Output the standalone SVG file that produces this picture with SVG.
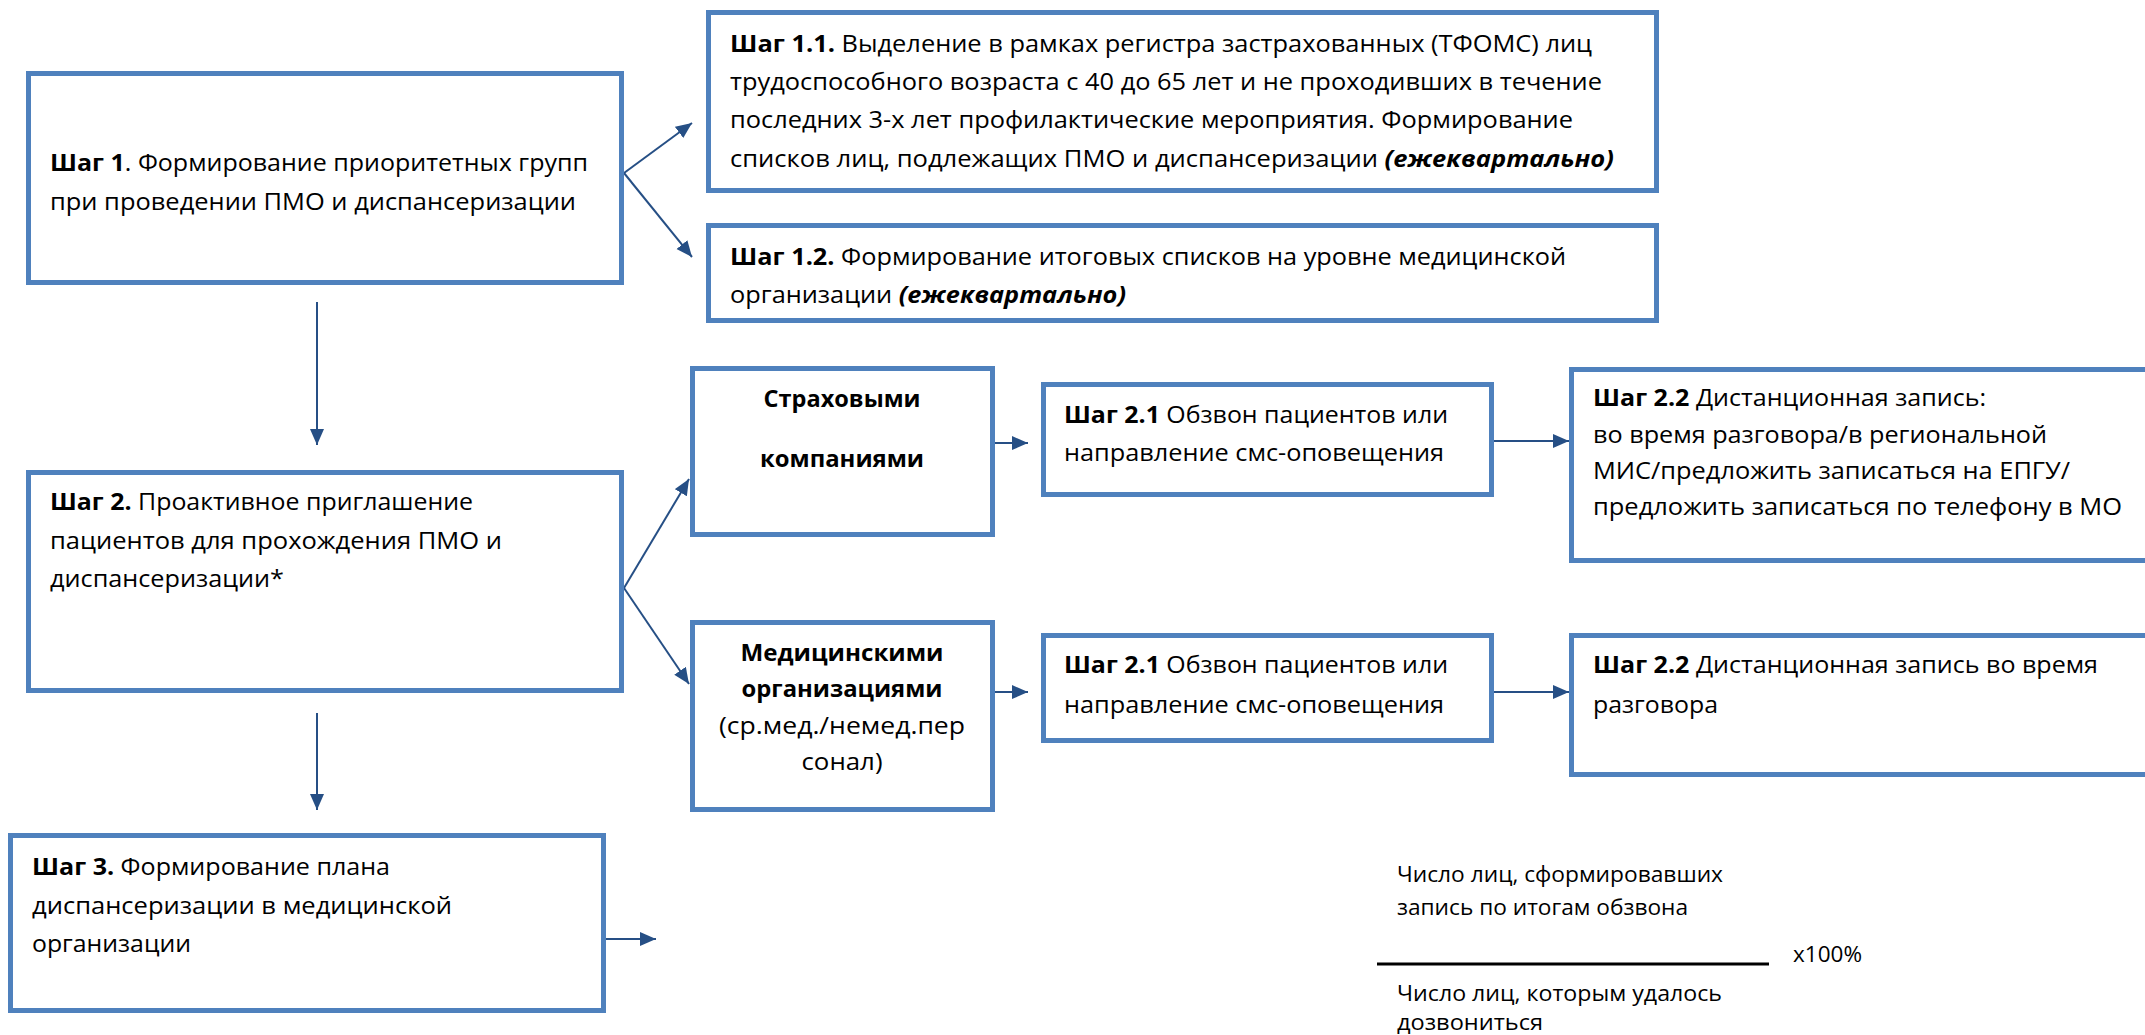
<svg xmlns="http://www.w3.org/2000/svg" width="2145" height="1035" viewBox="0 0 2145 1035">
<defs>
<style>
.box{fill:#ffffff;stroke:#4F81BD;stroke-width:5}
.t{font-family:"Open Sans","Noto Sans","Liberation Sans",sans-serif;font-size:23px;fill:#000}
.f{font-family:"Open Sans","Noto Sans","Liberation Sans",sans-serif;font-size:22px;fill:#000}
.b{font-weight:bold}
.bi{font-weight:bold;font-style:italic}
.c{text-anchor:middle}
.con{stroke:#264F85;stroke-width:2;fill:none;marker-end:url(#ah)}
</style>
<marker id="ah" markerUnits="userSpaceOnUse" markerWidth="18" markerHeight="16" refX="16" refY="7" orient="auto">
<path d="M0,0 L16,7 L0,14 Z" fill="#264F85"/>
</marker>
</defs>
<rect width="2145" height="1035" fill="#ffffff"/>

<g id="connectors">
<line class="con" x1="624" y1="173" x2="692" y2="123"/>
<line class="con" x1="624" y1="173" x2="692" y2="257"/>
<line class="con" x1="317" y1="302" x2="317" y2="445"/>
<line class="con" x1="624" y1="588" x2="689" y2="479"/>
<line class="con" x1="624" y1="588" x2="689" y2="684"/>
<line class="con" x1="317" y1="713" x2="317" y2="810"/>
<line class="con" x1="606" y1="939" x2="656" y2="939"/>
<line class="con" x1="995" y1="443" x2="1028" y2="443"/>
<line class="con" x1="1494" y1="441" x2="1569" y2="441"/>
<line class="con" x1="995" y1="692" x2="1028" y2="692"/>
<line class="con" x1="1494" y1="692" x2="1569" y2="692"/>
</g>

<g id="step1">
<rect class="box" x="28.5" y="73.5" width="593" height="209"/>
<text class="t" x="50" y="171" textLength="538" lengthAdjust="spacingAndGlyphs"><tspan class="b">Шаг 1</tspan>. Формирование приоритетных групп</text>
<text class="t" x="50" y="210" textLength="526" lengthAdjust="spacingAndGlyphs">при проведении ПМО и диспансеризации</text>
</g>

<g id="step1_1">
<rect class="box" x="708.5" y="12.5" width="948" height="178"/>
<text class="t" x="730" y="52" textLength="862" lengthAdjust="spacingAndGlyphs"><tspan class="b">Шаг 1.1.</tspan> Выделение в рамках регистра застрахованных (ТФОМС) лиц</text>
<text class="t" x="730" y="90" textLength="872" lengthAdjust="spacingAndGlyphs">трудоспособного возраста с 40 до 65 лет и не проходивших в течение</text>
<text class="t" x="730" y="128" textLength="843" lengthAdjust="spacingAndGlyphs">последних 3-х лет профилактические мероприятия. Формирование</text>
<text class="t" x="730" y="167" textLength="884" lengthAdjust="spacingAndGlyphs">списков лиц, подлежащих ПМО и диспансеризации <tspan class="bi">(ежеквартально)</tspan></text>
</g>

<g id="step1_2">
<rect class="box" x="708.5" y="225.5" width="948" height="95"/>
<text class="t" x="730" y="265" textLength="836" lengthAdjust="spacingAndGlyphs"><tspan class="b">Шаг 1.2.</tspan> Формирование итоговых списков на уровне медицинской</text>
<text class="t" x="730" y="303" textLength="396" lengthAdjust="spacingAndGlyphs">организации <tspan class="bi">(ежеквартально)</tspan></text>
</g>

<g id="step2">
<rect class="box" x="28.5" y="472.5" width="593" height="218"/>
<text class="t" x="50" y="510" textLength="423" lengthAdjust="spacingAndGlyphs"><tspan class="b">Шаг 2.</tspan> Проактивное приглашение</text>
<text class="t" x="50" y="549" textLength="452" lengthAdjust="spacingAndGlyphs">пациентов для прохождения ПМО и</text>
<text class="t" x="50" y="587" textLength="234" lengthAdjust="spacingAndGlyphs">диспансеризации*</text>
</g>

<g id="step3">
<rect class="box" x="10.5" y="835.5" width="593" height="175"/>
<text class="t" x="32" y="875" textLength="358" lengthAdjust="spacingAndGlyphs"><tspan class="b">Шаг 3.</tspan> Формирование плана</text>
<text class="t" x="32" y="914" textLength="420" lengthAdjust="spacingAndGlyphs">диспансеризации в медицинской</text>
<text class="t" x="32" y="952" textLength="159" lengthAdjust="spacingAndGlyphs">организации</text>
</g>

<g id="insurers">
<rect class="box" x="692.5" y="368.5" width="300" height="166"/>
<text class="t b c" x="842" y="407" textLength="157" lengthAdjust="spacingAndGlyphs">Страховыми</text>
<text class="t b c" x="842" y="467" textLength="164" lengthAdjust="spacingAndGlyphs">компаниями</text>
</g>

<g id="medorgs">
<rect class="box" x="692.5" y="622.5" width="300" height="187"/>
<text class="t b c" x="842" y="661" textLength="203" lengthAdjust="spacingAndGlyphs">Медицинскими</text>
<text class="t b c" x="842" y="697" textLength="201" lengthAdjust="spacingAndGlyphs">организациями</text>
<text class="t c" x="842" y="734" textLength="246" lengthAdjust="spacingAndGlyphs">(ср.мед./немед.пер</text>
<text class="t c" x="842" y="770" textLength="81" lengthAdjust="spacingAndGlyphs">сонал)</text>
</g>

<g id="step2_1_top">
<rect class="box" x="1043.5" y="384.5" width="448" height="110"/>
<text class="t" x="1064" y="423" textLength="384" lengthAdjust="spacingAndGlyphs"><tspan class="b">Шаг 2.1</tspan> Обзвон пациентов или</text>
<text class="t" x="1064" y="461" textLength="380" lengthAdjust="spacingAndGlyphs">направление смс-оповещения</text>
</g>

<g id="step2_2_top">
<rect class="box" x="1571.5" y="369.5" width="600" height="191"/>
<text class="t" x="1593" y="406" textLength="393" lengthAdjust="spacingAndGlyphs"><tspan class="b">Шаг 2.2</tspan> Дистанционная запись:</text>
<text class="t" x="1593" y="443" textLength="454" lengthAdjust="spacingAndGlyphs">во время разговора/в региональной</text>
<text class="t" x="1593" y="479" textLength="477" lengthAdjust="spacingAndGlyphs">МИС/предложить записаться на ЕПГУ/</text>
<text class="t" x="1593" y="515" textLength="529" lengthAdjust="spacingAndGlyphs">предложить записаться по телефону в МО</text>
</g>

<g id="step2_1_bottom">
<rect class="box" x="1043.5" y="635.5" width="448" height="105"/>
<text class="t" x="1064" y="673" textLength="384" lengthAdjust="spacingAndGlyphs"><tspan class="b">Шаг 2.1</tspan> Обзвон пациентов или</text>
<text class="t" x="1064" y="713" textLength="380" lengthAdjust="spacingAndGlyphs">направление смс-оповещения</text>
</g>

<g id="step2_2_bottom">
<rect class="box" x="1571.5" y="635.5" width="600" height="139"/>
<text class="t" x="1593" y="673" textLength="505" lengthAdjust="spacingAndGlyphs"><tspan class="b">Шаг 2.2</tspan> Дистанционная запись во время</text>
<text class="t" x="1593" y="713" textLength="125" lengthAdjust="spacingAndGlyphs">разговора</text>
</g>

<g id="formula">
<text class="f" x="1397" y="882" textLength="326" lengthAdjust="spacingAndGlyphs">Число лиц, сформировавших</text>
<text class="f" x="1397" y="915" textLength="291" lengthAdjust="spacingAndGlyphs">запись по итогам обзвона</text>
<line x1="1377" y1="964" x2="1769" y2="964" stroke="#000" stroke-width="3"/>
<text class="f" x="1793" y="962" textLength="69" lengthAdjust="spacingAndGlyphs">x100%</text>
<text class="f" x="1397" y="1001" textLength="325" lengthAdjust="spacingAndGlyphs">Число лиц, которым удалось</text>
<text class="f" x="1397" y="1030" textLength="146" lengthAdjust="spacingAndGlyphs">дозвониться</text>
</g>
</svg>
